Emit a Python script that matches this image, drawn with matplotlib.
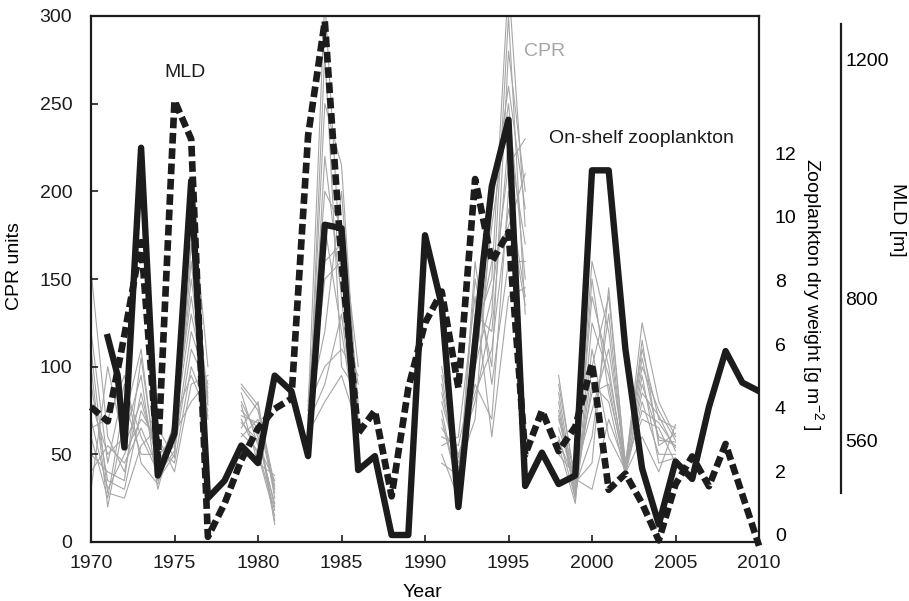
import numpy as np
import matplotlib
matplotlib.use("Agg")
import matplotlib.pyplot as plt

plt.rcParams["font.family"] = ["Liberation Sans", "DejaVu Sans"]
plt.rcParams["mathtext.fontset"] = "custom"
plt.rcParams["mathtext.rm"] = "Liberation Sans"
plt.rcParams["font.size"] = 14

n = np.nan

# CPR grey lines (CPR units), one list per series, years 1970-2005
cpr_years = list(range(1970, 2006))
cpr_series = [
    [155, 60, 40, 85, 45, 55, 120, 90, n, 88, 75, 30, n, 75, 310, 150, 90, n, n, n, n, 95, 40, 120, 150, 320, 180, n, 90, 35, 160, 120, 42, 125, 80, 60],
    [120, 45, 90, 60, 40, 60, 150, 80, n, 80, 60, 20, n, 60, 250, 215, 70, n, n, n, n, 70, 30, 150, 100, 280, 200, n, 75, 30, 140, 100, 40, 90, 60, 55],
    [100, 20, 70, 110, 35, 50, 200, 100, n, 70, 50, 15, n, 80, 200, 180, 100, n, n, n, n, 60, 55, 100, 180, 250, 150, n, 60, 25, 100, 140, 45, 110, 70, 65],
    [90, 35, 30, 75, 55, 45, 100, 75, n, 65, 80, 25, n, 70, 180, 120, 60, n, n, n, n, 80, 45, 90, 70, 200, 140, n, 85, 28, 90, 80, 38, 80, 50, 50],
    [80, 50, 60, 95, 30, 65, 130, 85, n, 85, 55, 35, n, 55, 280, 100, 85, n, n, n, n, 50, 25, 130, 120, 230, 170, n, 55, 22, 125, 95, 44, 100, 75, 58],
    [70, 30, 50, 70, 60, 40, 90, 95, n, 75, 65, 10, n, 65, 150, 160, 50, n, n, n, n, 90, 35, 110, 160, 180, 210, n, 70, 40, 75, 110, 46, 70, 65, 45],
    [60, 25, 80, 50, 50, 58, 160, 70, n, 60, 70, 28, n, 75, 120, 200, 75, n, n, n, n, 65, 50, 80, 130, 300, 130, n, 95, 32, 60, 130, 40, 115, 55, 62],
    [50, 40, 35, 105, 38, 52, 110, 88, n, 78, 45, 38, n, 58, 220, 140, 45, n, n, n, n, 75, 28, 160, 90, 160, 160, n, 65, 36, 30, 70, 43, 95, 45, 48],
    [40, 55, 45, 65, 42, 68, 140, 78, n, 68, 58, 22, n, 78, 100, 110, 95, n, n, n, n, 85, 42, 70, 190, 260, 190, n, 80, 24, 110, 60, 41, 85, 72, 52],
    [30, 100, 55, 80, 48, 62, 80, 92, n, 90, 78, 32, n, 68, 90, 130, 55, n, n, n, n, 55, 60, 140, 60, 140, 145, n, 50, 38, 85, 90, 39, 60, 40, 67],
    [110, 28, 25, 55, 65, 48, 170, 82, n, 62, 52, 18, n, 62, 80, 95, 65, n, n, n, n, 45, 38, 100, 140, 215, 230, n, 72, 26, 150, 85, 45, 105, 58, 57],
    [65, 70, 95, 45, 33, 70, 95, 72, n, 72, 68, 12, n, 72, 160, 170, 80, n, n, n, n, 100, 48, 85, 110, 190, 135, n, 58, 34, 45, 145, 42, 75, 68, 54],
]

# on-shelf zooplankton dry weight [g m-2]
zoo_years = [1971, 1971.6, 1972, 1973, 1974, 1975, 1976, 1977, 1978, 1979, 1980,
             1981, 1982, 1983, 1984, 1985, 1986, 1987, 1988, 1989, 1990, 1991,
             1992, 1993.5, 1994, 1995, 1996, 1997, 1998, 1999, 2000, 2001, 2002,
             2003, 2004, 2005, 2006, 2007, 2008, 2009, 2010]
zoo_dw = [6.22, 5.0, 2.75, 12.17, 1.87, 3.19, 11.13, 1.16, 1.71, 2.81, 2.26,
          5.01, 4.52, 2.48, 9.75, 9.64, 2.04, 2.48, 0.0, 0.0, 9.42, 7.22,
          0.88, 8.65, 10.96, 13.05, 1.54, 2.59, 1.6, 1.87, 11.46, 11.46, 5.84,
          2.09, 0.33, 2.31, 1.76, 4.02, 5.78, 4.79, 4.52]

# mixed layer depth [m]
mld_years = list(range(1970, 2011))
mld_m = [617, 593, 738, 894, 531, 1132, 1067, 399, 455, 528, 581,
         614, 631, 1073, 1265, 861, 573, 611, 467, 649, 758, 811,
         649, 1000, 861, 911, 537, 611, 543, 584, 690, 478, 505,
         455, 393, 487, 534, 484, 555, 470, 384]

ink = "#1c1c1c"
grey = "#a6a6a6"

fig = plt.figure(figsize=(9.09, 6.01), dpi=100)
ax = fig.add_axes([91 / 909, 59 / 601, 668 / 909, 526 / 601])

for s in cpr_series:
    ax.plot(cpr_years, s, color=grey, lw=0.8, zorder=1)

ax.set_xlim(1970, 2010)
ax.set_ylim(0, 300)
ax.set_xticks(range(1970, 2011, 5))
ax.set_yticks(range(0, 301, 50))
ax.tick_params(direction="in", length=5, width=1.2, colors=ink)
ax.tick_params(axis="y", pad=13.5)
ax.tick_params(axis="x", pad=9)
for sp in ax.spines.values():
    sp.set_linewidth(1.6)
    sp.set_color(ink)

ax.set_ylabel("CPR units")
ax.yaxis.set_label_coords(-0.1025, 0.525)
ax.set_xlabel("Year")
ax.xaxis.set_label_coords(0.4955, -0.079)

# zooplankton axis
ax2 = ax.twinx()
ax2.plot(zoo_years, zoo_dw, color=ink, lw=4.6)
ax2.set_ylim(-0.22, 16.31)
ax2.set_yticks(range(0, 13, 2))
ax2.tick_params(axis="y", length=0, pad=11.5)
for sp in ax2.spines.values():
    sp.set_visible(False)
ax2.set_ylabel("Zooplankton dry weight [g m$^{-2}$ ]", rotation=270,
               va="center", ha="center")
ax2.yaxis.set_label_coords(1.0805, 0.47)

# MLD axis
ax3 = ax.twinx()
ax3.plot(mld_years, mld_m, color=ink, lw=4.8, linestyle=(0, (1.6, 0.7)),
         dash_capstyle="butt", clip_on=False)
ax3.set_ylim(390.3, 1273.9)
ax3.set_yticks([560, 800, 1200])
ax3.tick_params(axis="y", length=0, pad=3)
for k in ["top", "left", "bottom"]:
    ax3.spines[k].set_visible(False)
ax3.spines["right"].set_position(("axes", 1.1228))
ax3.spines["right"].set_bounds(472, 1260)
ax3.spines["right"].set_linewidth(1.6)
ax3.spines["right"].set_color(ink)
ax3.set_ylabel("MLD [m]", rotation=270, va="center", ha="center")
ax3.yaxis.set_label_coords(1.208, 0.612)

ax.text(1975.6, 268, "MLD", ha="center", va="center", color=ink)
ax.text(1995.9, 279.5, "CPR", ha="left", va="center", color=grey)
ax.text(1997.4, 230, "On-shelf zooplankton", ha="left", va="center", color=ink)

fig.savefig("out.png", dpi=100)
